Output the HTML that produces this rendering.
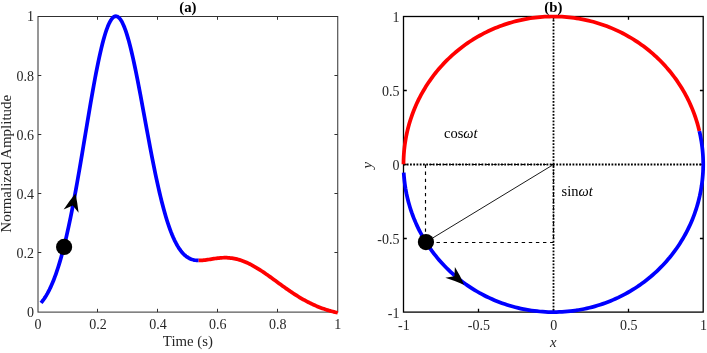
<!DOCTYPE html>
<html><head><meta charset="utf-8"><title>Pulse waveform and phase circle</title>
<style>
html,body{margin:0;padding:0;background:#fff;}
svg{display:block;}
text{font-family:"Liberation Serif",serif;fill:#262626;}
.tk{font-size:14px;}
.lb{font-size:14.8px;}
.tt{font-size:14.8px;font-weight:bold;fill:#000;}
.an{font-size:14.5px;fill:#000;}
</style></head><body>
<svg width="707" height="353" viewBox="0 0 707 353">
<rect x="0" y="0" width="707" height="353" fill="#ffffff"/>

<g id="panel-a">
<g stroke="#303030" stroke-width="1" fill="none">
<rect x="38.0" y="16.5" width="299.75" height="295.6"/>
<path d="M97.50,312.1 v-3.3 M97.50,16.5 v3.3 M38.0,252.50 h3.3 M337.75,252.50 h-3.3 M157.50,312.1 v-3.3 M157.50,16.5 v3.3 M38.0,193.50 h3.3 M337.75,193.50 h-3.3 M217.50,312.1 v-3.3 M217.50,16.5 v3.3 M38.0,134.50 h3.3 M337.75,134.50 h-3.3 M277.50,312.1 v-3.3 M277.50,16.5 v3.3 M38.0,75.50 h3.3 M337.75,75.50 h-3.3"/>
</g>
<path d="M41.00,302.93 L42.06,301.63 L43.11,300.22 L44.17,298.72 L45.23,297.12 L46.29,295.40 L47.35,293.57 L48.40,291.62 L49.46,289.55 L50.52,287.35 L51.58,285.02 L52.64,282.55 L53.70,279.94 L54.75,277.19 L55.81,274.29 L56.87,271.24 L57.93,268.03 L58.99,264.66 L60.04,261.14 L61.10,257.46 L62.16,253.61 L63.22,249.60 L64.28,245.43 L65.34,241.09 L66.39,236.60 L67.45,231.94 L68.51,227.13 L69.57,222.16 L70.63,217.05 L71.68,211.79 L72.74,206.39 L73.80,200.85 L74.86,195.19 L75.92,189.41 L76.98,183.53 L78.03,177.54 L79.09,171.46 L80.15,165.31 L81.21,159.09 L82.27,152.82 L83.32,146.50 L84.38,140.16 L85.44,133.81 L86.50,127.46 L87.56,121.14 L88.62,114.84 L89.67,108.60 L90.73,102.43 L91.79,96.35 L92.85,90.37 L93.91,84.51 L94.96,78.78 L96.02,73.22 L97.08,67.82 L98.14,62.62 L99.20,57.62 L100.26,52.84 L101.31,48.30 L102.37,44.00 L103.43,39.98 L104.49,36.23 L105.55,32.78 L106.60,29.63 L107.66,26.79 L108.72,24.27 L109.78,22.08 L110.84,20.23 L111.90,18.73 L112.95,17.57 L114.01,16.76 L115.07,16.31 L116.13,16.21 L117.19,16.47 L118.24,17.07 L119.30,18.03 L120.36,19.32 L121.42,20.96 L122.48,22.92 L123.54,25.21 L124.59,27.81 L125.65,30.71 L126.71,33.91 L127.77,37.38 L128.83,41.11 L129.88,45.10 L130.94,49.32 L132.00,53.76 L133.06,58.40 L134.12,63.23 L135.18,68.24 L136.23,73.39 L137.29,78.69 L138.35,84.09 L139.41,89.61 L140.47,95.20 L141.52,100.86 L142.58,106.57 L143.64,112.31 L144.70,118.06 L145.76,123.82 L146.82,129.56 L147.87,135.27 L148.93,140.93 L149.99,146.54 L151.05,152.07 L152.11,157.52 L153.16,162.88 L154.22,168.13 L155.28,173.26 L156.34,178.27 L157.40,183.15 L158.46,187.89 L159.51,192.49 L160.57,196.93 L161.63,201.22 L162.69,205.34 L163.75,209.31 L164.80,213.11 L165.86,216.74 L166.92,220.20 L167.98,223.50 L169.04,226.63 L170.10,229.59 L171.15,232.39 L172.21,235.03 L173.27,237.50 L174.33,239.82 L175.39,241.98 L176.44,244.00 L177.50,245.86 L178.56,247.59 L179.62,249.18 L180.68,250.64 L181.74,251.97 L182.79,253.18 L183.85,254.28 L184.91,255.26 L185.97,256.14 L187.03,256.92 L188.08,257.61 L189.14,258.21 L190.20,258.72 L191.26,259.16 L192.32,259.52 L193.38,259.82 L194.43,260.06 L195.49,260.24 L196.55,260.37 L197.61,260.45 L198.67,260.49" fill="none" stroke="#0000ff" stroke-width="3.75" stroke-linejoin="round"/>
<path d="M198.67,260.49 L199.94,260.48 L201.22,260.43 L202.49,260.34 L203.77,260.21 L205.05,260.06 L206.32,259.88 L207.60,259.69 L208.87,259.49 L210.15,259.28 L211.43,259.07 L212.70,258.87 L213.98,258.67 L215.25,258.48 L216.53,258.31 L217.81,258.15 L219.08,258.02 L220.36,257.90 L221.63,257.81 L222.91,257.75 L224.19,257.72 L225.46,257.71 L226.74,257.74 L228.01,257.80 L229.29,257.89 L230.57,258.01 L231.84,258.17 L233.12,258.37 L234.39,258.60 L235.67,258.86 L236.95,259.16 L238.22,259.50 L239.50,259.87 L240.77,260.27 L242.05,260.71 L243.33,261.18 L244.60,261.68 L245.88,262.21 L247.15,262.78 L248.43,263.37 L249.71,264.00 L250.98,264.65 L252.26,265.32 L253.53,266.03 L254.81,266.76 L256.09,267.51 L257.36,268.28 L258.64,269.07 L259.91,269.88 L261.19,270.71 L262.47,271.55 L263.74,272.41 L265.02,273.29 L266.29,274.17 L267.57,275.07 L268.85,275.98 L270.12,276.89 L271.40,277.81 L272.67,278.73 L273.95,279.66 L275.23,280.59 L276.50,281.53 L277.78,282.46 L279.05,283.39 L280.33,284.32 L281.61,285.24 L282.88,286.17 L284.16,287.08 L285.43,287.99 L286.71,288.89 L287.99,289.78 L289.26,290.66 L290.54,291.53 L291.81,292.39 L293.09,293.24 L294.37,294.08 L295.64,294.90 L296.92,295.70 L298.19,296.50 L299.47,297.28 L300.75,298.04 L302.02,298.79 L303.30,299.52 L304.57,300.23 L305.85,300.93 L307.13,301.60 L308.40,302.27 L309.68,302.91 L310.95,303.54 L312.23,304.15 L313.51,304.74 L314.78,305.31 L316.06,305.87 L317.33,306.41 L318.61,306.93 L319.89,307.43 L321.16,307.92 L322.44,308.39 L323.71,308.84 L324.99,309.28 L326.27,309.70 L327.54,310.10 L328.82,310.49 L330.09,310.86 L331.37,311.22 L332.65,311.56 L333.92,311.89 L335.20,312.21 L336.47,312.51 L337.75,312.79" fill="none" stroke="#ff0000" stroke-width="3.75" stroke-linejoin="round"/>
<text class="tk" x="38.00" y="329.2" text-anchor="middle">0</text>
<text class="tk" x="34.00" y="317.00" text-anchor="end">0</text>
<text class="tk" x="97.95" y="329.2" text-anchor="middle">0.2</text>
<text class="tk" x="34.00" y="257.88" text-anchor="end">0.2</text>
<text class="tk" x="157.90" y="329.2" text-anchor="middle">0.4</text>
<text class="tk" x="34.00" y="198.76" text-anchor="end">0.4</text>
<text class="tk" x="217.85" y="329.2" text-anchor="middle">0.6</text>
<text class="tk" x="34.00" y="139.64" text-anchor="end">0.6</text>
<text class="tk" x="277.80" y="329.2" text-anchor="middle">0.8</text>
<text class="tk" x="34.00" y="80.52" text-anchor="end">0.8</text>
<text class="tk" x="337.75" y="329.2" text-anchor="middle">1</text>
<text class="tk" x="34.00" y="21.40" text-anchor="end">1</text>
<text class="lb" x="187.88" y="346.2" text-anchor="middle">Time (s)</text>
<text class="lb" style="font-size:15px" transform="translate(11.2,163.70) rotate(-90)" text-anchor="middle">Normalized Amplitude</text>
<text class="tt" x="187.88" y="12.1" text-anchor="middle">(a)</text>
<path d="M75.5,193.5 Q69.1,201.1 63.65,209.5 L72.8,205.4 L78.6,212.75 Q77.5,203 75.5,193.5 Z" fill="#000"/>
<circle cx="64.1" cy="246.9" r="8.1" fill="#000"/>
</g>
<g id="panel-b">
<g stroke="#000" fill="none">
<path d="M403.5,164.50 H703.2 M553.50,16.5 V312.1" stroke-width="1.8" stroke-dasharray="1.8 1.45"/>
<path d="M425.50,164.50 V242.50 M553.50,242.50 H425.50 M553.50,164.50 V242.50 M553.50,164.50 H425.50" stroke-width="1.15" stroke-dasharray="3.4 3.7"/>
<path d="M553.50,164.50 L425.94,242.10" stroke-width="0.9"/>
</g>
<g stroke="#000" stroke-width="1.3" fill="none">
<rect x="403.5" y="16.5" width="299.70" height="295.60"/>
<path d="M478.50,312.1 v-3.3 M478.50,16.5 v3.3 M403.5,238.50 h3.3 M703.2,238.50 h-3.3 M553.50,312.1 v-3.3 M553.50,16.5 v3.3 M403.5,164.50 h3.3 M703.2,164.50 h-3.3 M628.50,312.1 v-3.3 M628.50,16.5 v3.3 M403.5,90.50 h3.3 M703.2,90.50 h-3.3"/>
</g>
<path d="M699.36,131.05 L698.79,128.71 L698.18,126.38 L697.54,124.06 L696.86,121.75 L696.13,119.45 L695.37,117.16 L694.58,114.89 L693.74,112.63 L692.87,110.38 L691.96,108.15 L691.02,105.93 L690.04,103.72 L689.02,101.54 L687.96,99.37 L686.87,97.21 L685.75,95.08 L684.59,92.96 L683.39,90.86 L682.16,88.78 L680.90,86.72 L679.60,84.69 L678.27,82.67 L676.91,80.67 L675.51,78.70 L674.08,76.75 L672.62,74.82 L671.13,72.92 L669.60,71.04 L668.05,69.19 L666.46,67.36 L664.85,65.55 L663.20,63.77 L661.53,62.02 L659.83,60.30 L658.09,58.60 L656.34,56.94 L654.55,55.30 L652.74,53.69 L650.90,52.10 L649.03,50.55 L647.14,49.03 L645.23,47.54 L643.29,46.08 L641.32,44.65 L639.34,43.25 L637.33,41.89 L635.29,40.56 L633.24,39.26 L631.17,37.99 L629.07,36.76 L626.96,35.56 L624.82,34.39 L622.67,33.26 L620.49,32.17 L618.30,31.11 L616.10,30.08 L613.87,29.09 L611.63,28.14 L609.38,27.22 L607.11,26.34 L604.82,25.49 L602.52,24.68 L600.21,23.91 L597.89,23.18 L595.55,22.48 L593.21,21.82 L590.85,21.20 L588.48,20.62 L586.10,20.07 L583.72,19.57 L581.33,19.10 L578.93,18.67 L576.52,18.28 L574.10,17.92 L571.68,17.61 L569.26,17.34 L566.83,17.10 L564.40,16.90 L561.97,16.74 L559.53,16.63 L557.09,16.55 L554.65,16.51 L552.21,16.50 L549.77,16.54 L547.33,16.62 L544.89,16.74 L542.46,16.89 L540.03,17.09 L537.60,17.32 L535.17,17.59 L532.76,17.90 L530.34,18.25 L527.93,18.64 L525.53,19.07 L523.14,19.54 L520.75,20.04 L518.38,20.58 L516.01,21.16 L513.65,21.78 L511.30,22.44 L508.97,23.13 L506.64,23.86 L504.33,24.63 L502.03,25.44 L499.74,26.28 L497.47,27.16 L495.22,28.08 L492.98,29.03 L490.75,30.01 L488.54,31.04 L486.35,32.10 L484.18,33.19 L482.02,34.32 L479.88,35.48 L477.77,36.68 L475.67,37.91 L473.59,39.17 L471.54,40.47 L469.51,41.80 L467.50,43.16 L465.51,44.56 L463.54,45.98 L461.60,47.44 L459.68,48.93 L457.79,50.45 L455.92,52.00 L454.08,53.58 L452.27,55.19 L450.48,56.83 L448.72,58.49 L446.99,60.19 L445.28,61.91 L443.61,63.66 L441.96,65.43 L440.34,67.24 L438.76,69.06 L437.20,70.92 L435.67,72.80 L434.18,74.70 L432.71,76.62 L431.28,78.57 L429.88,80.54 L428.52,82.54 L427.18,84.55 L425.88,86.59 L424.62,88.65 L423.39,90.72 L422.19,92.82 L421.03,94.94 L419.90,97.07 L418.81,99.22 L417.75,101.39 L416.73,103.58 L415.75,105.78 L414.80,108.00 L413.89,110.23 L413.01,112.48 L412.18,114.74 L411.38,117.01 L410.61,119.30 L409.89,121.60 L409.20,123.91 L408.56,126.23 L407.95,128.56 L407.38,130.90 L406.84,133.25 L406.35,135.60 L405.90,137.97 L405.48,140.34 L405.11,142.72 L404.77,145.10 L404.47,147.49 L404.21,149.88 L404.00,152.28 L403.82,154.68 L403.68,157.08 L403.58,159.49 L403.52,161.89 L403.50,164.30" fill="none" stroke="#ff0000" stroke-width="3.75"/>
<path d="M403.73,172.55 L403.91,175.28 L404.15,178.01 L404.43,180.73 L404.76,183.44 L405.15,186.15 L405.58,188.85 L406.07,191.54 L406.60,194.23 L407.19,196.90 L407.83,199.56 L408.51,202.21 L409.25,204.85 L410.04,207.47 L410.87,210.08 L411.75,212.68 L412.69,215.25 L413.67,217.81 L414.69,220.35 L415.77,222.87 L416.89,225.37 L418.06,227.85 L419.28,230.31 L420.54,232.75 L421.84,235.16 L423.20,237.55 L424.59,239.91 L426.03,242.25 L427.52,244.56 L429.05,246.84 L430.62,249.10 L432.23,251.32 L433.88,253.52 L435.57,255.68 L437.31,257.82 L439.08,259.92 L440.90,261.99 L442.75,264.02 L444.64,266.03 L446.57,267.99 L448.53,269.92 L450.53,271.82 L452.57,273.68 L454.63,275.50 L456.74,277.28 L458.87,279.02 L461.04,280.73 L463.24,282.39 L465.47,284.02 L467.74,285.60 L470.03,287.14 L472.34,288.64 L474.69,290.10 L477.07,291.51 L479.46,292.89 L481.89,294.21 L484.34,295.49 L486.81,296.73 L489.31,297.92 L491.83,299.07 L494.37,300.17 L496.93,301.22 L499.50,302.23 L502.10,303.19 L504.72,304.10 L507.35,304.96 L509.99,305.78 L512.66,306.55 L515.33,307.26 L518.02,307.93 L520.72,308.55 L523.43,309.12 L526.16,309.65 L528.89,310.12 L531.63,310.54 L534.37,310.91 L537.13,311.23 L539.89,311.50 L542.65,311.72 L545.42,311.89 L548.19,312.01 L550.96,312.08 L553.74,312.10 L556.51,312.07 L559.28,311.98 L562.05,311.85 L564.82,311.67 L567.58,311.43 L570.34,311.15 L573.09,310.81 L575.84,310.43 L578.57,309.99 L581.30,309.51 L584.02,308.97 L586.73,308.39 L589.43,307.75 L592.11,307.07 L594.79,306.34 L597.44,305.56 L600.09,304.73 L602.71,303.85 L605.32,302.93 L607.92,301.95 L610.49,300.93 L613.04,299.87 L615.58,298.75 L618.09,297.60 L620.58,296.39 L623.04,295.14 L625.49,293.85 L627.91,292.51 L630.30,291.13 L632.66,289.70 L635.00,288.23 L637.31,286.72 L639.60,285.17 L641.85,283.57 L644.07,281.93 L646.26,280.26 L648.42,278.54 L650.55,276.79 L652.64,274.99 L654.70,273.16 L656.73,271.29 L658.72,269.39 L660.67,267.45 L662.59,265.47 L664.47,263.46 L666.31,261.42 L668.11,259.34 L669.88,257.23 L671.60,255.08 L673.28,252.91 L674.93,250.71 L676.53,248.47 L678.08,246.21 L679.60,243.92 L681.07,241.60 L682.50,239.26 L683.88,236.89 L685.22,234.49 L686.52,232.07 L687.77,229.63 L688.97,227.16 L690.13,224.68 L691.24,222.17 L692.30,219.65 L693.31,217.10 L694.28,214.54 L695.20,211.96 L696.07,209.36 L696.89,206.75 L697.66,204.12 L698.38,201.48 L699.05,198.82 L699.68,196.16 L700.25,193.48 L700.77,190.80 L701.24,188.10 L701.67,185.40 L702.04,182.69 L702.36,179.97 L702.62,177.25 L702.84,174.52 L703.01,171.79 L703.12,169.06 L703.19,166.32 L703.20,163.59 L703.16,160.85 L703.07,158.12 L702.93,155.39 L702.73,152.66 L702.49,149.93 L702.20,147.21 L701.85,144.50 L701.45,141.79 L701.00,139.09 L700.51,136.40 L699.96,133.72 L699.36,131.05" fill="none" stroke="#0000ff" stroke-width="3.75"/>
<text class="tk" x="403.90" y="329.7" text-anchor="middle">-1</text>
<text class="tk" x="399.50" y="317.70" text-anchor="end">-1</text>
<text class="tk" x="478.82" y="329.7" text-anchor="middle">-0.5</text>
<text class="tk" x="399.50" y="243.80" text-anchor="end">-0.5</text>
<text class="tk" x="553.75" y="329.7" text-anchor="middle">0</text>
<text class="tk" x="399.50" y="169.90" text-anchor="end">0</text>
<text class="tk" x="628.68" y="329.7" text-anchor="middle">0.5</text>
<text class="tk" x="399.50" y="96.00" text-anchor="end">0.5</text>
<text class="tk" x="703.60" y="329.7" text-anchor="middle">1</text>
<text class="tk" x="399.50" y="22.10" text-anchor="end">1</text>
<text class="lb" x="553.35" y="346.5" text-anchor="middle" font-style="italic">x</text>
<text class="lb" transform="translate(372,165.20) rotate(-90)" text-anchor="middle" font-style="italic">y</text>
<text class="tt" x="553.35" y="12.1" text-anchor="middle">(b)</text>
<text class="an" x="444" y="137.6">cos<tspan font-style="italic">ωt</tspan></text>
<text class="an" x="561.6" y="195.9">sin<tspan font-style="italic">ωt</tspan></text>
<path d="M464.05,284.65 Q460.1,275.5 454.9,267.1 L454.4,276.2 L445.3,277.8 Q454.3,280.7 464.05,284.65 Z" fill="#000"/>
<circle cx="425.94" cy="242.10" r="8.1" fill="#000"/>
</g>
</svg></body></html>
